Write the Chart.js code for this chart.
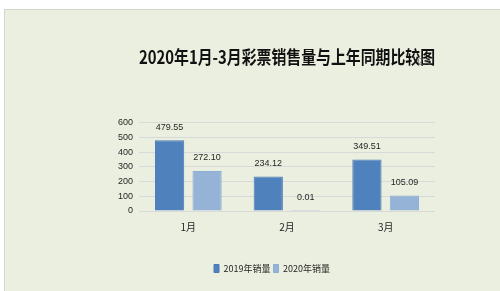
<!DOCTYPE html>
<html><head><meta charset="utf-8">
<script src="https://cdn.jsdelivr.net/npm/chart.js@4.4.1/dist/chart.umd.min.js"></script>
<style>
html,body{margin:0;padding:0;background:#fff;width:500px;height:291px;overflow:hidden;}
#bg{position:absolute;left:4px;top:9px;width:496px;height:282px;background:#ebefdf;border-left:1px solid #d4d6cc;border-top:1px solid #d4d6cc;box-sizing:border-box;}
#wrap{position:absolute;left:5px;top:10px;width:495px;height:281px;}
</style></head>
<body>
<div id="bg"></div>
<div id="wrap"><canvas id="c" width="495" height="281"></canvas></div>
<script>
const categories = ['1月', '2月', '3月'];
const seriesNames = ['2019年销量', '2020年销量'];
const sales2019 = [479.55, 234.12, 349.51];
const sales2020 = [272.10, 0.01, 105.09];
const titleText = '2020年1月-3月彩票销售量与上年同期比较图';
const unitText = '亿元';

const labelPlugin = {
  id: 'barLabels',
  afterDatasetsDraw(chart) {
    const ctx = chart.ctx;
    ctx.save();
    ctx.font = '9px "Liberation Sans", sans-serif';
    ctx.fillStyle = '#262626';
    ctx.textAlign = 'center';
    ctx.textBaseline = 'middle';
    chart.data.datasets.forEach((ds, i) => {
      chart.getDatasetMeta(i).data.forEach((bar, j) => {
        ctx.fillText(ds.data[j].toFixed(2), bar.x, bar.y - 13);
      });
    });
    ctx.font = '7px "Noto Sans CJK SC", sans-serif';
    ctx.fillStyle = '#595959';
    ctx.fillText(unitText, chart.chartArea.right - 11, 51);
    ctx.restore();
  }
};

new Chart(document.getElementById('c'), {
  type: 'bar',
  data: {
    labels: categories,
    datasets: [
      { label: seriesNames[0], data: sales2019, backgroundColor: '#4f81bd', borderColor: '#4a7ab5', borderWidth: 1 },
      { label: seriesNames[1], data: sales2020, backgroundColor: '#95b3d7', borderColor: '#8eaed3', borderWidth: 1 }
    ]
  },
  options: {
    responsive: false,
    animation: false,
    devicePixelRatio: 1,
    datasets: { bar: { categoryPercentage: 0.76, barPercentage: 0.78 } },
    layout: { padding: { left: 104, right: 65, top: 0, bottom: 8 } },
    plugins: {
      tooltip: { enabled: false },
      title: {
        display: true,
        text: titleText,
        fullSize: false,
        color: '#111',
        font: { family: '"Noto Sans CJK SC", sans-serif', size: 18, weight: 'bold' },
        padding: { top: 36, bottom: 55 }
      },
      legend: {
        display: true,
        position: 'bottom',
        labels: {
          boxWidth: 5, boxHeight: 8, padding: 3,
          color: '#262626',
          font: { family: '"Noto Sans CJK SC", sans-serif', size: 9 }
        }
      }
    },
    scales: {
      x: {
        grid: { display: false, drawTicks: false },
        border: { display: false },
        ticks: { color: '#262626', padding: 10, font: { family: '"Noto Sans CJK SC", sans-serif', size: 10 } },
        afterFit(s) { s.height = 50; }
      },
      y: {
        min: 0, max: 600,
        grid: { color: '#d9d9d9', drawTicks: false },
        border: { display: false },
        ticks: { stepSize: 100, padding: 6, color: '#262626', font: { family: '"Liberation Sans Narrow", "Liberation Sans", sans-serif', size: 9 } },
        afterFit(s) { s.width = 30; }
      }
    }
  },
  plugins: [labelPlugin]
});
</script>
</body></html>
